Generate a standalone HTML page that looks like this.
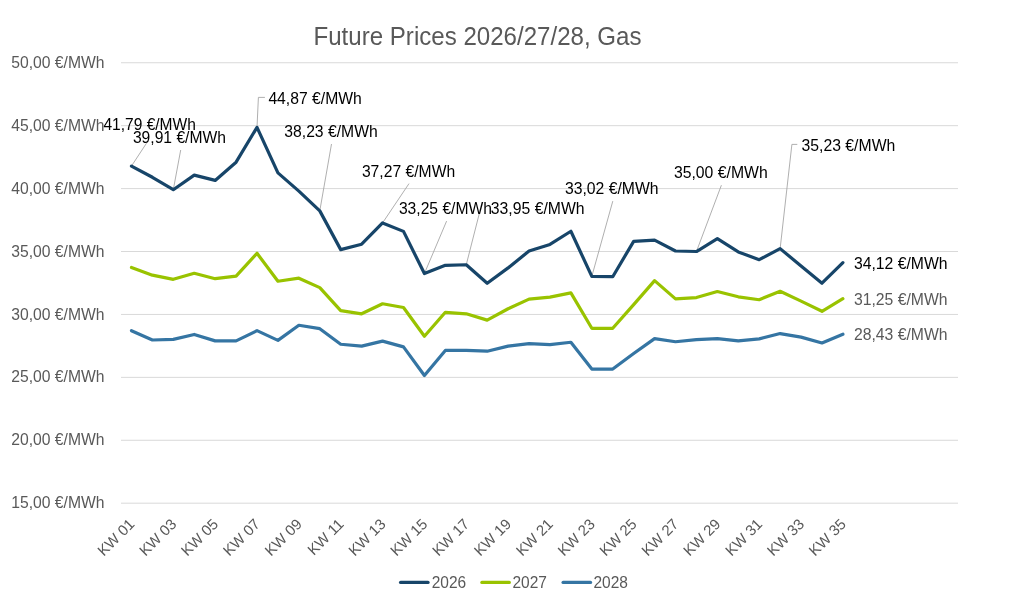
<!DOCTYPE html><html><head><meta charset="utf-8"><style>html,body{margin:0;padding:0;background:#fff;}svg{display:block;will-change:transform;}text{font-family:"Liberation Sans",sans-serif;}</style></head><body>
<svg width="1024" height="606" viewBox="0 0 1024 606">
<rect width="1024" height="606" fill="#fff"/>
<line x1="121" x2="958" y1="62.76" y2="62.76" stroke="#d9d9d9" stroke-width="1"/>
<line x1="121" x2="958" y1="125.68" y2="125.68" stroke="#d9d9d9" stroke-width="1"/>
<line x1="121" x2="958" y1="188.60" y2="188.60" stroke="#d9d9d9" stroke-width="1"/>
<line x1="121" x2="958" y1="251.52" y2="251.52" stroke="#d9d9d9" stroke-width="1"/>
<line x1="121" x2="958" y1="314.44" y2="314.44" stroke="#d9d9d9" stroke-width="1"/>
<line x1="121" x2="958" y1="377.36" y2="377.36" stroke="#d9d9d9" stroke-width="1"/>
<line x1="121" x2="958" y1="440.28" y2="440.28" stroke="#d9d9d9" stroke-width="1"/>
<line x1="121" x2="958" y1="503.20" y2="503.20" stroke="#d9d9d9" stroke-width="1"/>
<text x="313.5" y="44.9" font-size="25.2" fill="#595959" textLength="328" lengthAdjust="spacingAndGlyphs">Future Prices 2026/27/28, Gas</text>
<text x="104.5" y="67.86" font-size="15.7" fill="#595959" text-anchor="end">50,00 €/MWh</text>
<text x="104.5" y="130.78" font-size="15.7" fill="#595959" text-anchor="end">45,00 €/MWh</text>
<text x="104.5" y="193.70" font-size="15.7" fill="#595959" text-anchor="end">40,00 €/MWh</text>
<text x="104.5" y="256.62" font-size="15.7" fill="#595959" text-anchor="end">35,00 €/MWh</text>
<text x="104.5" y="319.54" font-size="15.7" fill="#595959" text-anchor="end">30,00 €/MWh</text>
<text x="104.5" y="382.46" font-size="15.7" fill="#595959" text-anchor="end">25,00 €/MWh</text>
<text x="104.5" y="445.38" font-size="15.7" fill="#595959" text-anchor="end">20,00 €/MWh</text>
<text x="104.5" y="508.30" font-size="15.7" fill="#595959" text-anchor="end">15,00 €/MWh</text>
<text transform="translate(135.46,525) rotate(-45)" font-size="15" fill="#595959" text-anchor="end">KW 01</text>
<text transform="translate(177.31,525) rotate(-45)" font-size="15" fill="#595959" text-anchor="end">KW 03</text>
<text transform="translate(219.16,525) rotate(-45)" font-size="15" fill="#595959" text-anchor="end">KW 05</text>
<text transform="translate(261.01,525) rotate(-45)" font-size="15" fill="#595959" text-anchor="end">KW 07</text>
<text transform="translate(302.86,525) rotate(-45)" font-size="15" fill="#595959" text-anchor="end">KW 09</text>
<text transform="translate(344.71,525) rotate(-45)" font-size="15" fill="#595959" text-anchor="end">KW 11</text>
<text transform="translate(386.56,525) rotate(-45)" font-size="15" fill="#595959" text-anchor="end">KW 13</text>
<text transform="translate(428.41,525) rotate(-45)" font-size="15" fill="#595959" text-anchor="end">KW 15</text>
<text transform="translate(470.26,525) rotate(-45)" font-size="15" fill="#595959" text-anchor="end">KW 17</text>
<text transform="translate(512.11,525) rotate(-45)" font-size="15" fill="#595959" text-anchor="end">KW 19</text>
<text transform="translate(553.96,525) rotate(-45)" font-size="15" fill="#595959" text-anchor="end">KW 21</text>
<text transform="translate(595.81,525) rotate(-45)" font-size="15" fill="#595959" text-anchor="end">KW 23</text>
<text transform="translate(637.66,525) rotate(-45)" font-size="15" fill="#595959" text-anchor="end">KW 25</text>
<text transform="translate(679.51,525) rotate(-45)" font-size="15" fill="#595959" text-anchor="end">KW 27</text>
<text transform="translate(721.36,525) rotate(-45)" font-size="15" fill="#595959" text-anchor="end">KW 29</text>
<text transform="translate(763.21,525) rotate(-45)" font-size="15" fill="#595959" text-anchor="end">KW 31</text>
<text transform="translate(805.06,525) rotate(-45)" font-size="15" fill="#595959" text-anchor="end">KW 33</text>
<text transform="translate(846.91,525) rotate(-45)" font-size="15" fill="#595959" text-anchor="end">KW 35</text>
<polyline fill="none" stroke="#a6a6a6" stroke-width="0.9" points="131.46,166.07 146.50,143.20"/>
<polyline fill="none" stroke="#a6a6a6" stroke-width="0.9" points="173.31,189.73 180.70,150.00"/>
<polyline fill="none" stroke="#a6a6a6" stroke-width="0.9" points="257.01,127.32 258.40,97.40 264.90,97.40"/>
<polyline fill="none" stroke="#a6a6a6" stroke-width="0.9" points="319.79,210.87 331.50,144.00"/>
<polyline fill="none" stroke="#a6a6a6" stroke-width="0.9" points="382.56,222.95 409.00,183.60"/>
<polyline fill="none" stroke="#a6a6a6" stroke-width="0.9" points="424.41,273.54 446.60,221.10"/>
<polyline fill="none" stroke="#a6a6a6" stroke-width="0.9" points="466.26,264.73 479.60,212.40"/>
<polyline fill="none" stroke="#a6a6a6" stroke-width="0.9" points="591.81,276.44 612.80,201.10"/>
<polyline fill="none" stroke="#a6a6a6" stroke-width="0.9" points="696.44,251.52 721.40,185.20"/>
<polyline fill="none" stroke="#a6a6a6" stroke-width="0.9" points="780.14,248.63 791.90,144.40 797.30,144.40"/>
<polyline fill="none" stroke="#3575a3" stroke-width="3.2" stroke-linejoin="round" stroke-linecap="round" points="131.46,330.67 152.39,339.99 173.31,339.36 194.24,334.45 215.16,340.87 236.09,340.87 257.01,330.67 277.94,340.36 298.86,325.26 319.79,328.66 340.71,344.26 361.64,346.15 382.56,341.12 403.49,346.91 424.41,375.47 445.34,350.43 466.26,350.43 487.19,351.19 508.11,346.15 529.04,343.63 549.96,344.64 570.89,342.25 591.81,369.05 612.74,369.05 633.66,353.58 654.59,338.60 675.51,341.75 696.44,339.61 717.36,338.60 738.29,340.87 759.21,338.85 780.14,333.57 801.06,337.09 821.99,343.01 842.91,334.20"/>
<polyline fill="none" stroke="#99c300" stroke-width="3.2" stroke-linejoin="round" stroke-linecap="round" points="131.46,267.50 152.39,275.18 173.31,279.33 194.24,273.29 215.16,278.70 236.09,276.06 257.01,253.28 277.94,281.22 298.86,278.20 319.79,287.64 340.71,310.66 361.64,313.81 382.56,303.74 403.49,307.52 424.41,336.21 445.34,312.30 466.26,313.81 487.19,320.10 508.11,308.78 529.04,299.09 549.96,297.07 570.89,292.92 591.81,328.28 612.74,328.28 633.66,304.62 654.59,280.59 675.51,298.84 696.44,297.58 717.36,291.54 738.29,296.82 759.21,299.72 780.14,291.29 801.06,301.10 821.99,311.29 842.91,298.71"/>
<polyline fill="none" stroke="#174569" stroke-width="3.2" stroke-linejoin="round" stroke-linecap="round" points="131.46,166.07 152.39,177.27 173.31,189.73 194.24,175.14 215.16,180.42 236.09,162.17 257.01,127.32 277.94,172.87 298.86,191.12 319.79,210.87 340.71,249.63 361.64,244.22 382.56,222.95 403.49,231.39 424.41,273.54 445.34,265.36 466.26,264.73 487.19,283.23 508.11,267.88 529.04,251.02 549.96,244.47 570.89,231.26 591.81,276.44 612.74,276.69 633.66,241.33 654.59,240.19 675.51,251.02 696.44,251.52 717.36,238.68 738.29,251.90 759.21,259.70 780.14,248.63 801.06,265.99 821.99,283.23 842.91,262.59"/>
<text x="103.40" y="129.60" font-size="15.8" fill="#000" textLength="92.50" lengthAdjust="spacingAndGlyphs">41,79 €/MWh</text>
<text x="132.90" y="142.80" font-size="15.8" fill="#000" textLength="93.10" lengthAdjust="spacingAndGlyphs">39,91 €/MWh</text>
<text x="268.40" y="103.75" font-size="15.8" fill="#000" textLength="93.40" lengthAdjust="spacingAndGlyphs">44,87 €/MWh</text>
<text x="284.30" y="136.90" font-size="15.8" fill="#000" textLength="93.40" lengthAdjust="spacingAndGlyphs">38,23 €/MWh</text>
<text x="361.90" y="176.70" font-size="15.8" fill="#000" textLength="93.30" lengthAdjust="spacingAndGlyphs">37,27 €/MWh</text>
<text x="398.90" y="214.10" font-size="15.8" fill="#000" textLength="93.10" lengthAdjust="spacingAndGlyphs">33,25 €/MWh</text>
<text x="490.80" y="214.10" font-size="15.8" fill="#000" textLength="93.80" lengthAdjust="spacingAndGlyphs">33,95 €/MWh</text>
<text x="564.90" y="194.10" font-size="15.8" fill="#000" textLength="93.60" lengthAdjust="spacingAndGlyphs">33,02 €/MWh</text>
<text x="673.90" y="177.70" font-size="15.8" fill="#000" textLength="93.80" lengthAdjust="spacingAndGlyphs">35,00 €/MWh</text>
<text x="801.50" y="150.80" font-size="15.8" fill="#000" textLength="93.80" lengthAdjust="spacingAndGlyphs">35,23 €/MWh</text>
<text x="853.90" y="268.80" font-size="15.8" fill="#000" textLength="93.70" lengthAdjust="spacingAndGlyphs">34,12 €/MWh</text>
<text x="853.90" y="304.60" font-size="15.8" fill="#595959" textLength="93.70" lengthAdjust="spacingAndGlyphs">31,25 €/MWh</text>
<text x="853.90" y="340.20" font-size="15.8" fill="#595959" textLength="93.70" lengthAdjust="spacingAndGlyphs">28,43 €/MWh</text>
<line x1="400.60" x2="428.00" y1="582.4" y2="582.4" stroke="#174569" stroke-width="3.3" stroke-linecap="round"/>
<text x="431.70" y="587.7" font-size="15.7" fill="#595959" textLength="34.5" lengthAdjust="spacingAndGlyphs">2026</text>
<line x1="481.90" x2="509.30" y1="582.4" y2="582.4" stroke="#99c300" stroke-width="3.3" stroke-linecap="round"/>
<text x="512.50" y="587.7" font-size="15.7" fill="#595959" textLength="34.5" lengthAdjust="spacingAndGlyphs">2027</text>
<line x1="563.10" x2="590.50" y1="582.4" y2="582.4" stroke="#3575a3" stroke-width="3.3" stroke-linecap="round"/>
<text x="593.50" y="587.7" font-size="15.7" fill="#595959" textLength="34.5" lengthAdjust="spacingAndGlyphs">2028</text>
</svg></body></html>
